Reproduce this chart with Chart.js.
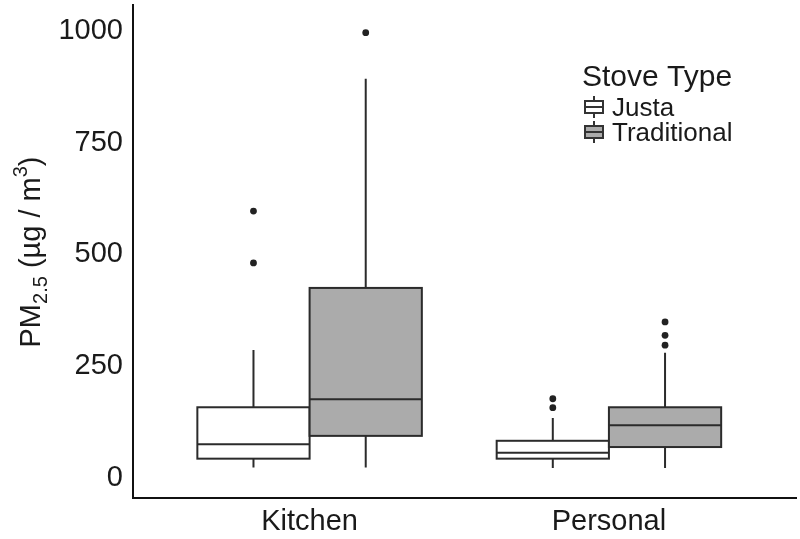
<!DOCTYPE html>
<html>
<head>
<meta charset="utf-8">
<script src="https://cdn.jsdelivr.net/npm/chart.js@4.4.1/dist/chart.umd.min.js"></script>
<style>
  html, body { margin: 0; padding: 0; background: #fff; }
  #wrap { width: 800px; height: 539px; }
</style>
</head>
<body>
<div id="wrap"><canvas id="boxChart"></canvas></div>
<script>
// categories and groups
const categories = ['Kitchen', 'Personal'];
const stoveTypes = ['Justa', 'Traditional'];
const yTicks = [0, 250, 500, 750, 1000];

// box stats per category (Kitchen, Personal)
const justaLow = [23, 22];
const justaQ1 = [43, 43];
const justaMedian = [75, 56];
const justaQ3 = [158, 83];
const justaHigh = [286, 134];
const justaOutliers = [[481, 597], [157, 177]];

const tradLow = [23, 22];
const tradQ1 = [94, 69];
const tradMedian = [176, 118];
const tradQ3 = [425, 158];
const tradHigh = [893, 280];
const tradOutliers = [[996], [297, 319, 349]];

const fills = ['#ffffff', '#ababab'];
const ink = '#2b2b2b';
const dodge = 0.1875; // half of one box width, in category units
const FONT = "'Liberation Sans', Arial, sans-serif";

const groups = [
  { low: justaLow, q1: justaQ1, med: justaMedian, q3: justaQ3, high: justaHigh, out: justaOutliers },
  { low: tradLow, q1: tradQ1, med: tradMedian, q3: tradQ3, high: tradHigh, out: tradOutliers }
];

function offsetFor(g) { return g === 0 ? -dodge : dodge; }

// outlier points for the scatter datasets
const outlierSets = groups.map((grp, g) => {
  const pts = [];
  grp.out.forEach((vals, c) => vals.forEach(v => pts.push({ x: c + 1 + offsetFor(g), y: v })));
  return pts;
});

// draws whiskers, boxes and medians from the stats via the chart scales
const boxPlugin = {
  id: 'boxes',
  beforeDatasetsDraw(chart) {
    const { ctx, scales: { x, y } } = chart;
    ctx.save();
    ctx.strokeStyle = ink;
    ctx.lineWidth = 2;
    groups.forEach((grp, g) => {
      categories.forEach((cat, c) => {
        const cx = c + 1 + offsetFor(g);
        const px = x.getPixelForValue(cx);
        const left = x.getPixelForValue(cx - dodge);
        const right = x.getPixelForValue(cx + dodge);
        const yLow = y.getPixelForValue(grp.low[c]);
        const yQ1 = y.getPixelForValue(grp.q1[c]);
        const yMed = y.getPixelForValue(grp.med[c]);
        const yQ3 = y.getPixelForValue(grp.q3[c]);
        const yHigh = y.getPixelForValue(grp.high[c]);
        // whiskers
        ctx.beginPath();
        ctx.moveTo(px, yLow); ctx.lineTo(px, yQ1);
        ctx.moveTo(px, yQ3); ctx.lineTo(px, yHigh);
        ctx.stroke();
        // box
        ctx.fillStyle = fills[g];
        ctx.fillRect(left, yQ3, right - left, yQ1 - yQ3);
        ctx.strokeRect(left, yQ3, right - left, yQ1 - yQ3);
        // median
        ctx.beginPath();
        ctx.moveTo(left, yMed); ctx.lineTo(right, yMed);
        ctx.stroke();
      });
    });
    ctx.restore();
  },
  afterDraw(chart) {
    const { ctx } = chart;
    ctx.save();
    // y axis title with sub/superscript
    ctx.translate(40, 252);
    ctx.rotate(-Math.PI / 2);
    ctx.fillStyle = '#1a1a1a';
    ctx.textBaseline = 'alphabetic';
    const parts = [
      { t: 'PM', size: 29, dy: 0 },
      { t: '2.5', size: 20, dy: 7 },
      { t: ' (\u00b5g / m', size: 29, dy: 0 },
      { t: '3', size: 20, dy: -13 },
      { t: ')', size: 29, dy: 0 }
    ];
    let total = 0;
    parts.forEach(p => { ctx.font = p.size + 'px ' + FONT; p.w = ctx.measureText(p.t).width; total += p.w; });
    let xx = -total / 2;
    parts.forEach(p => {
      ctx.font = p.size + 'px ' + FONT;
      ctx.fillText(p.t, xx, 0 + p.dy);
      xx += p.w;
    });
    ctx.restore();

    // legend
    ctx.save();
    ctx.fillStyle = '#1a1a1a';
    ctx.textBaseline = 'alphabetic';
    ctx.font = '30px ' + FONT;
    ctx.fillText('Stove Type', 582, 86);
    ctx.font = '26px ' + FONT;
    stoveTypes.forEach((name, i) => {
      const cy = 107 + i * 25;
      const gx = 594;
      ctx.strokeStyle = '#333';
      ctx.lineWidth = 2;
      ctx.beginPath();
      ctx.moveTo(gx, cy - 11); ctx.lineTo(gx, cy + 11);
      ctx.stroke();
      ctx.fillStyle = fills[i];
      ctx.fillRect(gx - 9, cy - 6, 18, 12);
      ctx.strokeRect(gx - 9, cy - 6, 18, 12);
      ctx.beginPath();
      ctx.moveTo(gx - 9, cy); ctx.lineTo(gx + 9, cy);
      ctx.stroke();
      ctx.fillStyle = '#1a1a1a';
      ctx.fillText(name, 612, cy + 9);
    });
    ctx.restore();
  }
};

new Chart(document.getElementById('boxChart'), {
  type: 'scatter',
  data: {
    datasets: stoveTypes.map((name, g) => ({
      label: name,
      data: outlierSets[g],
      pointRadius: 3.4,
      pointBackgroundColor: '#222',
      pointBorderColor: '#222',
      pointBorderWidth: 0
    }))
  },
  options: {
    responsive: true,
    maintainAspectRatio: false,
    animation: false,
    layout: { padding: { top: 5, right: 0, bottom: 0, left: 0 } },
    plugins: { legend: { display: false }, tooltip: { enabled: false } },
    scales: {
      x: {
        type: 'linear',
        min: 0.41,
        max: 2.625,
        afterBuildTicks: s => { s.ticks = categories.map((c, i) => ({ value: i + 1 })); },
        afterFit: s => { s.height = 41; s.paddingLeft = 0; s.paddingRight = 0; },
        grid: { display: false, drawTicks: false },
        border: { display: true, color: '#111', width: 2 },
        ticks: {
          callback: v => categories[v - 1],
          color: '#1a1a1a',
          font: { family: FONT, size: 29 },
          padding: 7,
          maxRotation: 0
        }
      },
      y: {
        min: -45,
        max: 1058,
        afterBuildTicks: s => { s.ticks = yTicks.map(v => ({ value: v })); },
        afterFit: s => { s.width = 133; s.paddingTop = 0; s.paddingBottom = 0; },
        grid: { display: false, drawTicks: false },
        border: { display: true, color: '#111', width: 2 },
        ticks: {
          callback: v => String(v),
          color: '#1a1a1a',
          font: { family: FONT, size: 29 },
          padding: 10
        }
      }
    }
  },
  plugins: [boxPlugin]
});
</script>
</body>
</html>
